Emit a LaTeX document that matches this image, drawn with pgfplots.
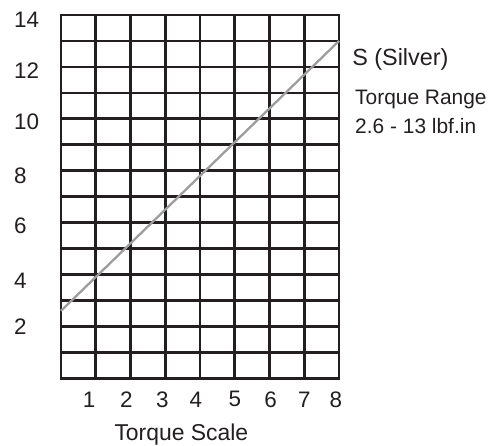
\documentclass[border=0pt]{standalone}
\usepackage{pgfplots}
\pgfplotsset{compat=1.18}
\usepackage{fontspec}
\setmainfont{Liberation Sans}
\definecolor{gridc}{HTML}{231F20}
\definecolor{silverc}{HTML}{9D9D9D}
\definecolor{textc}{HTML}{231F20}
\begin{document}
\begin{tikzpicture}[x=1bp,y=1bp]
\useasboundingbox (0,0) rectangle (489,446);
\begin{axis}[
  at={(61bp,67.7bp)}, anchor=south west,
  scale only axis, width=278bp, height=363.3bp,
  xmin=0, xmax=8, ymin=0, ymax=14,
  clip=false,
  axis line style={gridc, line width=2.6bp},
  xtick={0.81,1.88,2.92,3.88,5.0,6.03,7.0,7.91},
  xticklabels={1,2,3,4,5,6,7,8},
  ytick={1.98,3.75,5.88,7.80,9.88,11.85,13.82},
  yticklabels={2,4,6,8,10,12,14},
  minor xtick={1,2,3,4,5,6,7},
  minor ytick={1,2,3,4,5,6,7,8,9,10,11,12,13},
  xminorgrids=true, yminorgrids=true,
  xmajorgrids=false, ymajorgrids=false,
  minor grid style={gridc, line width=2.6bp},
  major tick length=0pt, minor tick length=0pt,
  /pgf/number format/assume math mode=true,
  ticklabel style={font=\fontsize{22.5}{26}\selectfont, text=textc},
  xticklabel style={anchor=center, yshift=-21bp, inner sep=0pt},
  yticklabel style={anchor=west, xshift=-47bp, inner sep=0pt},
  xlabel={Torque Scale},
  xlabel style={font=\fontsize{23}{27}\selectfont, text=textc, anchor=base, inner sep=0pt,
    at={(axis description cs:0.433,-0.1720)}},
]
\addplot[silverc, line width=2.3bp] coordinates {(0,2.6) (8,13)};
\node[anchor=base west, inner sep=0pt, font=\fontsize{23.5}{27}\selectfont, text=textc]
  at (axis description cs:1.047,0.8596) {S (Silver)};
\node[anchor=base west, inner sep=0pt, font=\fontsize{21}{25}\selectfont, text=textc]
  at (axis description cs:1.0576,0.7523) {Torque Range};
\node[anchor=base west, inner sep=0pt, font=\fontsize{21}{25}\selectfont, text=textc]
  at (axis description cs:1.0576,0.6744) {2.6 - 13 lbf.in};
\end{axis}
\end{tikzpicture}
\end{document}
